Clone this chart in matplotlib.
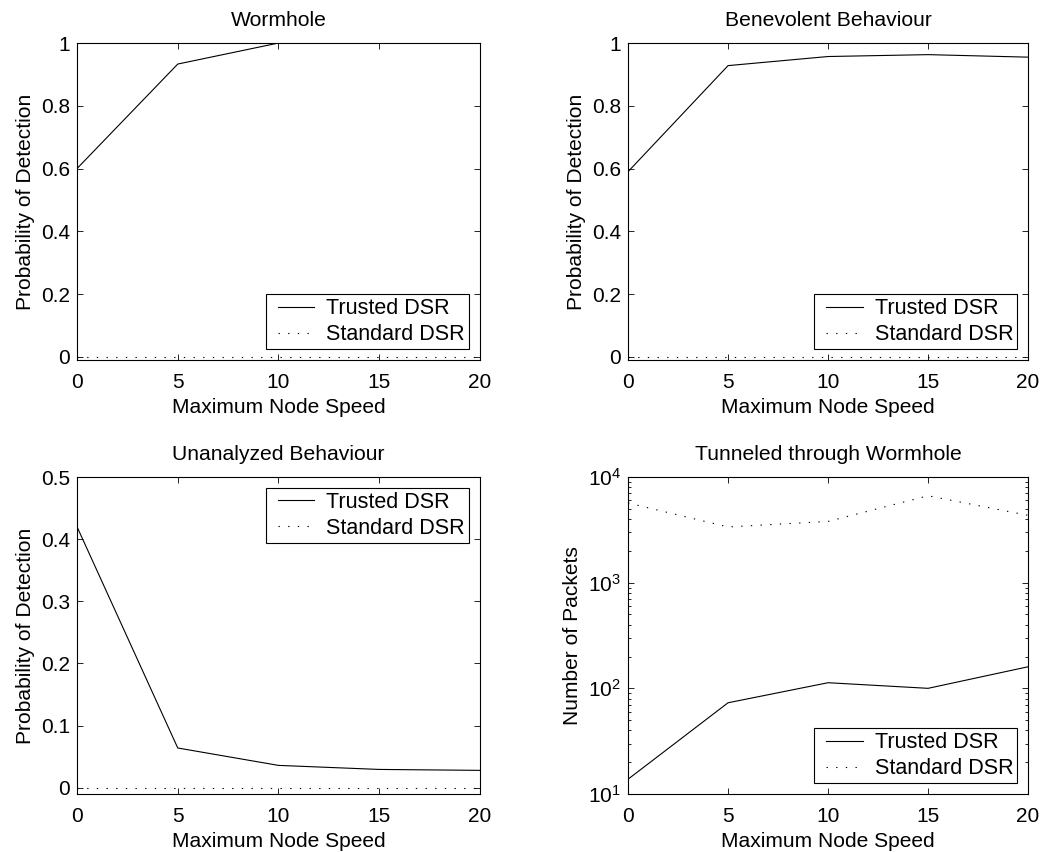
import matplotlib
matplotlib.use("Agg")
import matplotlib.pyplot as plt
from matplotlib.legend_handler import HandlerLine2D
from matplotlib.lines import Line2D
from matplotlib.ticker import LogLocator, NullFormatter

plt.rcParams["font.family"] = ["Liberation Sans", "DejaVu Sans"]

# node speeds on the x axis
speed = [0, 5, 10, 15, 20]

# detection probabilities
wormhole_trusted = [0.60, 0.933, 1.0, 1.0, 1.0]
wormhole_standard = [0, 0, 0, 0, 0]
benevolent_trusted = [0.59, 0.928, 0.957, 0.963, 0.955]
benevolent_standard = [0, 0, 0, 0, 0]
unanalyzed_trusted = [0.42, 0.064, 0.036, 0.0295, 0.028]
unanalyzed_standard = [0, 0, 0, 0, 0]

# packets tunneled through the wormhole
tunnel_trusted = [13.8, 73, 113, 100, 160]
tunnel_standard = [5680, 3370, 3800, 6650, 4340]

series_names = ["Trusted DSR", "Standard DSR"]
titles = ["Wormhole", "Benevolent Behaviour", "Unanalyzed Behaviour",
          "Tunneled through Wormhole"]

DOT = (0, (1.2, 7.5))

fig = plt.figure(figsize=(10.45, 8.52), dpi=100)
positions = [
    [0.0737, 0.5775, 0.3856, 0.372],
    [0.601, 0.5775, 0.3828, 0.372],
    [0.0737, 0.0681, 0.3856, 0.372],
    [0.601, 0.0681, 0.3828, 0.372],
]
axes = [fig.add_axes(p) for p in positions]

panels = [
    (wormhole_trusted, wormhole_standard, "lower right"),
    (benevolent_trusted, benevolent_standard, "lower right"),
    (unanalyzed_trusted, unanalyzed_standard, "upper right"),
    (tunnel_trusted, tunnel_standard, "lower right"),
]

# indent the legend lines a little, like the matlab legend
handler = {Line2D: HandlerLine2D(xpad=0.37)}

for i, (ax, (trusted, standard, loc)) in enumerate(zip(axes, panels)):
    ax.plot(speed, trusted, color="black", lw=0.8, label=series_names[0])
    ax.plot(speed, standard, color="black", lw=0.8, linestyle=DOT,
            label=series_names[1])
    ax.set_xlim(0, 20)
    ax.set_xticks([0, 5, 10, 15, 20])
    ax.set_title(titles[i], fontsize=15.2, pad=12.2)
    ax.set_xlabel("Maximum Node Speed", fontsize=15.1, labelpad=4.5)
    ax.tick_params(direction="in", top=True, right=True, length=4,
                   width=0.6, labelsize=15, pad=5)
    ax.tick_params(axis="x", pad=9.3)
    for s in ax.spines.values():
        s.set_linewidth(0.8)
    leg = ax.legend(loc=loc, fontsize=15.5, frameon=True, fancybox=False,
                    edgecolor="black", framealpha=1, handlelength=2.05,
                    borderaxespad=0.5, borderpad=0.19, labelspacing=0.22,
                    handletextpad=0.56, handler_map=handler)
    leg.get_frame().set_linewidth(0.8)

for ax in axes[:3]:
    ax.set_ylabel("Probability of Detection", fontsize=15.1, labelpad=4)

axes[0].set_ylim(-0.01, 1)
axes[0].set_yticks([0, 0.2, 0.4, 0.6, 0.8, 1])
axes[0].set_yticklabels(["0", "0.2", "0.4", "0.6", "0.8", "1"])
axes[1].set_ylim(-0.01, 1)
axes[1].set_yticks([0, 0.2, 0.4, 0.6, 0.8, 1])
axes[1].set_yticklabels(["0", "0.2", "0.4", "0.6", "0.8", "1"])
axes[2].set_ylim(-0.01, 0.5)
axes[2].set_yticks([0, 0.1, 0.2, 0.3, 0.4, 0.5])
axes[2].set_yticklabels(["0", "0.1", "0.2", "0.3", "0.4", "0.5"])

ax = axes[3]
ax.set_yscale("log")
ax.set_ylim(10, 1e4)
ax.yaxis.set_minor_locator(LogLocator(base=10, subs=range(2, 10)))
ax.yaxis.set_minor_formatter(NullFormatter())
ax.tick_params(which="minor", direction="in", right=True, length=2.5,
               width=0.6)
ax.set_ylabel("Number of Packets", fontsize=15.1, labelpad=4)

fig.savefig("out.png", dpi=100)
